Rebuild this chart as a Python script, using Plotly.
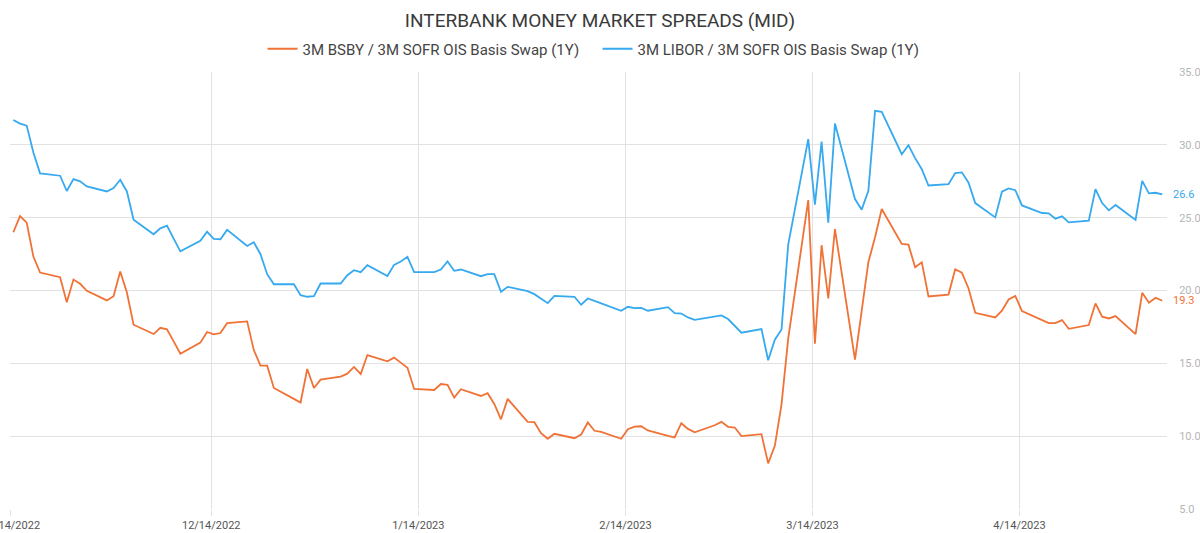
import pandas as pd
import plotly.graph_objects as go

# Business days 14 Nov 2022 .. 5 May 2023
dates = pd.bdate_range("2022-11-14", "2023-05-05")

bsby = [
    24.00, 25.11, 24.66, 22.33, 21.23,
    20.91, 19.20, 20.75, 20.46, 19.98,
    19.32, 19.61, 21.30, 19.86, 17.65,
    17.01, 17.44, 17.33, 16.51, 15.66,
    16.42, 17.15, 16.99, 17.08, 17.76,
    17.88, 15.91, 14.84, 14.84, 13.31,
    12.56, 12.31, 14.61, 13.31, 13.88,
    14.09, 14.29, 14.75, 14.27, 15.57,
    15.14, 15.39, 15.05, 14.70, 13.24,
    13.17, 13.58, 13.52, 12.65, 13.22,
    12.76, 12.95, 12.21, 11.16, 12.56,
    10.98, 10.96, 10.21, 9.82, 10.16,
    9.86, 10.11, 10.94, 10.37, 10.30,
    9.82, 10.48, 10.66, 10.68, 10.39,
    10.02, 9.91, 10.89, 10.50, 10.27,
    10.75, 10.98, 10.64, 10.59, 10.00,
    10.14, 8.13, 9.34, 12.19, 16.69,
    26.21, 16.35, 23.11, 19.45, 24.22,
    15.25, 18.63, 21.94, 23.65, 25.59,
    23.20, 23.15, 21.60, 21.94, 19.59,
    19.72, 21.46, 21.23, 20.14, 18.47,
    18.15, 18.61, 19.38, 19.63, 18.58,
    17.97, 17.76, 17.76, 17.97, 17.37,
    17.63, 19.11, 18.20, 18.08, 18.24,
    17.01, 19.84, 19.16, 19.50, 19.30,
]

libor = [
    31.71, 31.46, 31.32, 29.47, 28.04,
    27.88, 26.83, 27.65, 27.49, 27.15,
    26.80, 27.03, 27.60, 26.80, 24.86,
    23.86, 24.27, 24.45, 23.56, 22.69,
    23.42, 24.04, 23.54, 23.52, 24.16,
    23.06, 23.31, 22.49, 21.12, 20.43,
    20.43, 19.68, 19.57, 19.61, 20.48,
    20.48, 21.05, 21.39, 21.26, 21.74,
    21.00, 21.76, 21.99, 22.31, 21.26,
    21.26, 21.44, 21.99, 21.35, 21.44,
    20.98, 21.12, 21.12, 19.91, 20.25,
    19.95, 19.75, 19.41, 19.13, 19.63,
    19.57, 19.02, 19.45, 19.29, 19.13,
    18.61, 18.88, 18.79, 18.81, 18.61,
    18.86, 18.45, 18.42, 18.15, 17.99,
    18.20, 18.29, 18.04, 17.58, 17.10,
    17.35, 15.21, 16.62, 17.33, 23.15,
    30.39, 25.89, 30.23, 24.66, 31.46,
    26.28, 25.55, 26.85, 32.33, 32.26,
    29.36, 29.98, 29.09, 28.33, 27.21,
    27.30, 28.06, 28.11, 27.40, 26.00,
    25.02, 26.78, 27.01, 26.89, 25.84,
    25.32, 25.30, 24.93, 25.09, 24.68,
    24.79, 26.96, 26.00, 25.50, 25.87,
    24.84, 27.53, 26.67, 26.71, 26.60,
]

series_names = ["3M BSBY / 3M SOFR OIS Basis Swap (1Y)",
                "3M LIBOR / 3M SOFR OIS Basis Swap (1Y)"]
tick_dates = ["2022-11-14", "2022-12-14", "2023-01-14",
              "2023-02-14", "2023-03-14", "2023-04-14"]
tick_labels = ["11/14/2022", "12/14/2022", "1/14/2023",
               "2/14/2023", "3/14/2023", "4/14/2023"]
y_ticks = [5, 10, 15, 20, 25, 30, 35]

ORANGE = "#F07236"
BLUE = "#36A9EF"
FONT = "Roboto"

x = dates + pd.Timedelta(hours=9)

fig = go.Figure()
fig.add_trace(go.Scatter(x=x, y=bsby, mode="lines", name=series_names[0],
                         line=dict(color=ORANGE, width=1.8)))
fig.add_trace(go.Scatter(x=x, y=libor, mode="lines", name=series_names[1],
                         line=dict(color=BLUE, width=1.8)))

fig.add_annotation(xref="paper", yref="y", x=1, y=libor[-1], xanchor="left",
                   xshift=4, text=f"{libor[-1]:.1f}", showarrow=False,
                   font=dict(color=BLUE, size=11, family=FONT))
fig.add_annotation(xref="paper", yref="y", x=1, y=bsby[-1], xanchor="left",
                   xshift=4, text=f"{bsby[-1]:.1f}", showarrow=False,
                   font=dict(color=ORANGE, size=11, family=FONT))

fig.update_layout(
    width=1200, height=533,
    margin=dict(l=10, r=33, t=72, b=24, autoexpand=False),
    paper_bgcolor="white", plot_bgcolor="white",
    font=dict(family=FONT, color="#444444"),
    title=dict(text="INTERBANK MONEY MARKET SPREADS (MID)",
               x=0.5, xanchor="center", y=1 - 20 / 533, yanchor="middle",
               yref="container", automargin=False,
               font=dict(size=19, color="#3a3a3a", family=FONT)),
    legend=dict(orientation="h", x=0.5078, xanchor="center",
                y=1 - 49 / 533, yanchor="middle", yref="container",
                font=dict(size=15, color="#444444", family=FONT),
                itemwidth=30, entrywidth=290, entrywidthmode="pixels"),
    showlegend=True,
    xaxis=dict(
        type="date",
        range=["2022-11-13 21:00", "2023-05-06 02:00"],
        tickvals=tick_dates, ticktext=tick_labels,
        showgrid=True, gridcolor="#e2e2e2", gridwidth=1,
        ticks="outside", ticklen=6, tickcolor="#e2e2e2",
        tickfont=dict(size=11, color="#555555", family=FONT),
        ticklabeloverflow="allow",
        showline=False, zeroline=False, automargin=False,
    ),
    yaxis=dict(
        side="right", range=[5, 35], tickvals=y_ticks,
        tickformat=".1f",
        showgrid=True, gridcolor="#e2e2e2", gridwidth=1,
        tickfont=dict(size=11, color="#b5b5b5", family=FONT),
        ticks="outside", ticklen=9, tickcolor="rgba(0,0,0,0)",
        zeroline=False, showline=False, automargin=False,
    ),
)

fig.write_html("out.html")
